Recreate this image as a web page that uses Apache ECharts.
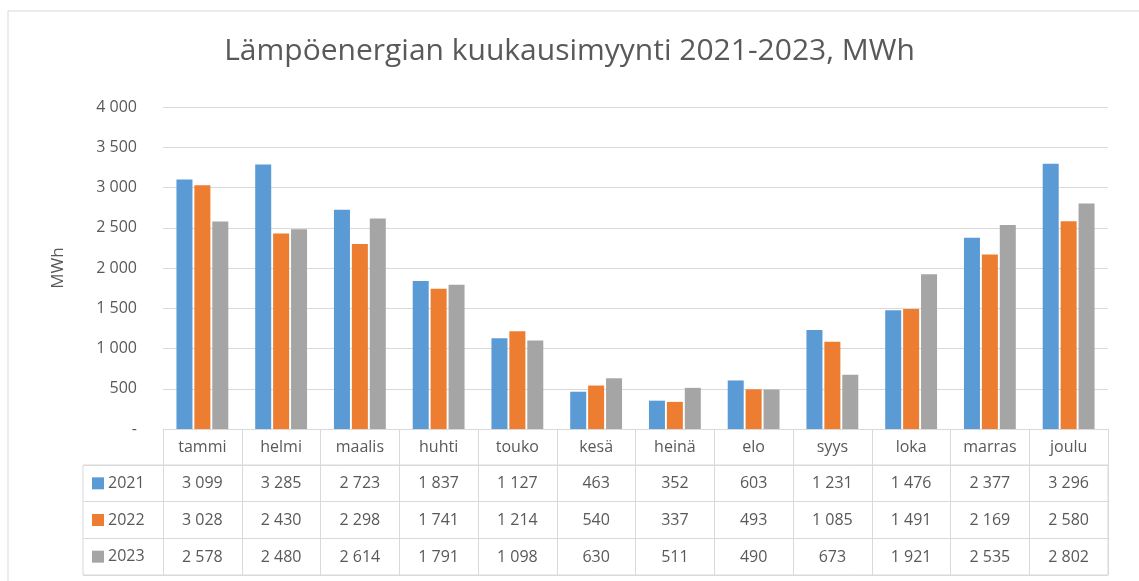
<!DOCTYPE html>
<html>
<head>
<meta charset="utf-8">
<script src="https://cdn.jsdelivr.net/npm/echarts@6/dist/echarts.min.js"></script>
<style>
  html, body { margin: 0; padding: 0; background: #fff; }
  #chart { width: 1139px; height: 581px; }
</style>
</head>
<body>
<div id="chart"></div>
<script>
// kuukaudet ja myynti MWh
var months = ['tammi', 'helmi', 'maalis', 'huhti', 'touko', 'kesä', 'heinä', 'elo', 'syys', 'loka', 'marras', 'joulu'];
var years = ['2021', '2022', '2023'];
var sales2021 = [3099, 3285, 2723, 1837, 1127, 463, 352, 603, 1231, 1476, 2377, 3296];
var sales2022 = [3028, 2430, 2298, 1741, 1214, 540, 337, 493, 1085, 1491, 2169, 2580];
var sales2023 = [2578, 2480, 2614, 1791, 1098, 630, 511, 490, 673, 1921, 2535, 2802];
var colors = ['#5B9BD5', '#ED7D31', '#A5A5A5'];

var font = 'Open Sans';
var grey = '#595959';
var lineCol = '#d9d9d9';

function fmt(n) {
  if (n === 0) return '-';
  return String(n).replace(/\B(?=(\d{3})+(?!\d))/g, ' ');
}

var chart = echarts.init(document.getElementById('chart'));

var allSales = [sales2021, sales2022, sales2023];

// taulukon rivit extra x-akseleina
var tableAxes = allSales.map(function (arr, i) {
  return {
    type: 'category',
    gridIndex: 0,
    position: 'bottom',
    offset: 36 + i * 37,
    data: arr.map(fmt),
    axisLine: { show: false },
    axisTick: { show: false },
    axisLabel: { interval: 0, margin: 10, color: grey, fontFamily: font, fontSize: 16 }
  };
});

var option = {
  animation: false,
  title: {
    text: 'Lämpöenergian kuukausimyynti 2021-2023, MWh',
    left: 'center',
    top: 31,
    textStyle: { color: grey, fontFamily: font, fontSize: 30, fontWeight: 'normal' }
  },
  graphic: [{
    type: 'rect',
    shape: { x: 8, y: 11, width: 1200, height: 620 },
    style: { fill: 'none', stroke: lineCol, lineWidth: 1 },
    silent: true
  }],
  grid: [
    { left: 163, right: 31, top: 107, bottom: 152 },
    { left: 83, right: 31, top: 465, bottom: 6, show: true, borderColor: lineCol, borderWidth: 1 }
  ],
  xAxis: [{
    type: 'category',
    gridIndex: 0,
    data: months,
    axisLine: { lineStyle: { color: lineCol } },
    axisTick: { show: true, interval: 0, length: 146, lineStyle: { color: lineCol } },
    axisLabel: { interval: 0, margin: 10, color: grey, fontFamily: font, fontSize: 16 }
  }].concat(tableAxes).concat([{
    type: 'value',
    gridIndex: 1,
    show: false,
    min: 0,
    max: 1
  }]),
  yAxis: [{
    type: 'value',
    gridIndex: 0,
    min: 0,
    max: 4000,
    interval: 500,
    name: 'MWh',
    nameLocation: 'middle',
    nameGap: 96,
    nameTextStyle: { color: grey, fontFamily: font, fontSize: 17 },
    axisLine: { show: false },
    axisTick: { show: false },
    axisLabel: { margin: 26, color: grey, fontFamily: font, fontSize: 16, formatter: fmt },
    splitLine: { lineStyle: { color: lineCol } }
  }, {
    type: 'category',
    gridIndex: 1,
    data: years,
    inverse: true,
    axisLine: { show: false },
    axisTick: { show: false },
    splitLine: { show: true, interval: 0, lineStyle: { color: lineCol } },
    axisLabel: {
      inside: true,
      margin: 9,
      interval: 0,
      formatter: function (v, i) { return '{s' + i + '|}{t|' + v + '}'; },
      rich: {
        s0: { width: 12, height: 12, backgroundColor: colors[0] },
        s1: { width: 12, height: 12, backgroundColor: colors[1] },
        s2: { width: 12, height: 12, backgroundColor: colors[2] },
        t: { color: grey, fontFamily: font, fontSize: 16, padding: [0, 0, 0, 4] }
      }
    }
  }],
  series: allSales.map(function (arr, i) {
    return {
      name: years[i],
      type: 'bar',
      xAxisIndex: 0,
      yAxisIndex: 0,
      data: arr,
      barWidth: 16,
      barGap: '12%',
      itemStyle: { color: colors[i] }
    };
  })
};

chart.setOption(option);
</script>
</body>
</html>
